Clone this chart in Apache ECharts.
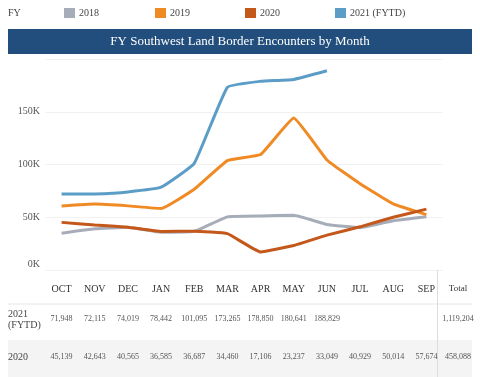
<!DOCTYPE html>
<html>
<head>
<meta charset="utf-8">
<script src="https://cdn.jsdelivr.net/npm/echarts@6/dist/echarts.min.js"></script>
<style>
  html, body { margin: 0; padding: 0; background: #fff; }
  #main { width: 480px; height: 377px; }
</style>
</head>
<body>
<div id="main"></div>
<script>
// months / fiscal year data
var months = ['OCT', 'NOV', 'DEC', 'JAN', 'FEB', 'MAR', 'APR', 'MAY', 'JUN', 'JUL', 'AUG', 'SEP'];
var fy2018 = [34890, 39048, 40542, 35837, 36713, 50339, 51168, 51862, 43180, 40037, 46719, 50568];
var fy2019 = [60745, 62469, 60782, 58317, 76545, 103731, 109415, 144116, 104311, 81777, 62707, 52546];
var fy2020 = [45139, 42643, 40565, 36585, 36687, 34460, 17106, 23237, 33049, 40929, 50014, 57674];
var fy2021 = [71948, 72115, 74019, 78442, 101095, 173265, 178850, 180641, 188829];
var total2021 = 1119204;
var total2020 = 458088;
var yTicks = ['0K', '50K', '100K', '150K'];

var colors = {
    '2018': '#a7adb8',
    '2019': '#f08a24',
    '2020': '#c4571a',
    '2021 (FYTD)': '#5b9dc6'
};
var font = '"Liberation Serif", "DejaVu Serif", serif';

var myChart = echarts.init(document.getElementById('main'));

function fmt(v) {
    return v.toLocaleString('en-US');
}

function legendItem(x, name) {
    return [{
        type: 'rect',
        shape: { x: x, y: 8, width: 11, height: 10 },
        style: { fill: colors[name] }
    }, {
        type: 'text',
        x: x + 15, y: 13,
        style: { text: name, fill: '#444', font: '10px ' + font, verticalAlign: 'middle' }
    }];
}

var option = {
    backgroundColor: '#fff',
    animation: false,
    grid: {
        left: 45,
        right: 37,
        top: 59,
        bottom: 107
    },
    xAxis: {
        type: 'category',
        data: months,
        boundaryGap: true,
        axisLine: { show: false },
        axisTick: { show: false },
        axisLabel: {
            margin: 14,
            color: '#333',
            fontFamily: font,
            fontSize: 10
        }
    },
    yAxis: {
        type: 'value',
        min: 0,
        max: 200000,
        interval: 50000,
        axisLine: { show: false },
        axisTick: { show: false },
        axisLabel: {
            margin: 5,
            color: '#555',
            fontFamily: font,
            fontSize: 10,
            showMaxLabel: false,
            formatter: function (v) {
                if (v === 0) return '{z|0K}';
                return yTicks[v / 50000] || '';
            },
            rich: {
                z: { color: '#555', fontFamily: font, fontSize: 10, padding: [0, 0, 12, 0] }
            }
        },
        splitLine: {
            lineStyle: { color: '#f2f2f2', width: 1 }
        }
    },
    series: [
        { name: '2018', data: fy2018 },
        { name: '2019', data: fy2019 },
        { name: '2020', data: fy2020 },
        { name: '2021 (FYTD)', data: fy2021 }
    ].map(function (s) {
        return {
            name: s.name,
            type: 'line',
            data: s.data,
            smooth: 0.1,
            symbol: 'none',
            lineStyle: { width: 3, color: colors[s.name] },
            itemStyle: { color: colors[s.name] }
        };
    })
};

myChart.setOption(option);

// table + header drawn with graphic, aligned to the category axis
var g = [];
g.push({
    type: 'text', x: 8, y: 13,
    style: { text: 'FY', fill: '#444', font: '10px ' + font, verticalAlign: 'middle' }
});
g = g.concat(legendItem(64, '2018'));
g = g.concat(legendItem(155, '2019'));
g = g.concat(legendItem(245, '2020'));
g = g.concat(legendItem(335, '2021 (FYTD)'));

g.push({
    type: 'rect',
    shape: { x: 8, y: 29, width: 464, height: 25 },
    style: { fill: '#214e7c' }
});
g.push({
    type: 'text', x: 240, y: 42,
    style: {
        text: 'FY Southwest Land Border Encounters by Month',
        fill: '#fff', font: '13px ' + font,
        align: 'center', verticalAlign: 'middle'
    }
});

// 2020 row background
g.push({
    type: 'rect', z: -1,
    shape: { x: 8, y: 340, width: 464, height: 37 },
    style: { fill: '#f4f4f4' }
});
// separator under header
g.push({
    type: 'line',
    shape: { x1: 8, y1: 304, x2: 472, y2: 304 },
    style: { stroke: '#e6e6e6', lineWidth: 1 }
});
// divider before total
g.push({
    type: 'line',
    shape: { x1: 437.5, y1: 270, x2: 437.5, y2: 377 },
    style: { stroke: '#dddddd', lineWidth: 1 }
});

var small = '8px ' + font;
g.push({ type: 'text', x: 458, y: 289, style: { text: 'Total', fill: '#333', font: '9px ' + font, align: 'center', verticalAlign: 'middle' } });
g.push({ type: 'text', x: 8, y: 314, style: { text: '2021', fill: '#444', font: '10px ' + font, verticalAlign: 'middle' } });
g.push({ type: 'text', x: 8, y: 325, style: { text: '(FYTD)', fill: '#444', font: '10px ' + font, verticalAlign: 'middle' } });
g.push({ type: 'text', x: 8, y: 357, style: { text: '2020', fill: '#444', font: '10px ' + font, verticalAlign: 'middle' } });

fy2021.forEach(function (v, i) {
    var x = myChart.convertToPixel({ xAxisIndex: 0 }, i);
    g.push({ type: 'text', x: x, y: 319, style: { text: fmt(v), fill: '#555', font: small, align: 'center', verticalAlign: 'middle' } });
});
fy2020.forEach(function (v, i) {
    var x = myChart.convertToPixel({ xAxisIndex: 0 }, i);
    g.push({ type: 'text', x: x, y: 357, style: { text: fmt(v), fill: '#555', font: small, align: 'center', verticalAlign: 'middle' } });
});
g.push({ type: 'text', x: 458, y: 319, style: { text: fmt(total2021), fill: '#555', font: small, align: 'center', verticalAlign: 'middle' } });
g.push({ type: 'text', x: 458, y: 357, style: { text: fmt(total2020), fill: '#555', font: small, align: 'center', verticalAlign: 'middle' } });

myChart.setOption({ graphic: g });
</script>
</body>
</html>
